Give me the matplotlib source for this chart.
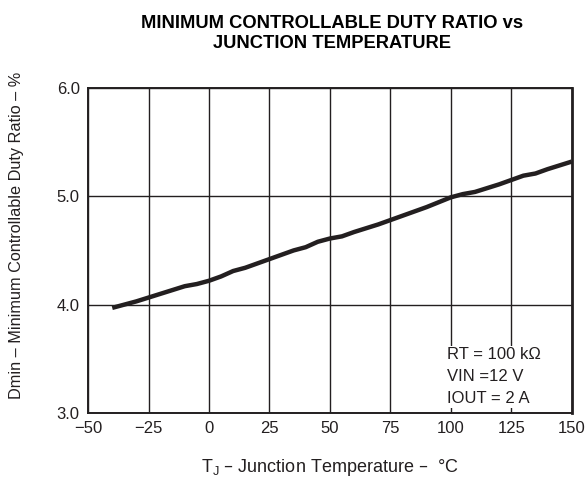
import matplotlib.pyplot as plt

plt.rcParams['font.family'] = ['Liberation Sans', 'DejaVu Sans']

# junction temperature (°C) and minimum controllable duty ratio (%)
temp_c = [-40, -30, -20, -10, -5, 0, 5, 10, 15, 20, 25, 30, 35, 40, 45, 50, 55, 60,
          70, 80, 90, 100, 105, 110, 120, 125, 130, 135, 140, 150]
dmin = [3.97, 4.03, 4.10, 4.17, 4.19, 4.22, 4.26, 4.31, 4.34, 4.38, 4.42, 4.46, 4.50,
        4.53, 4.58, 4.61, 4.63, 4.67, 4.74, 4.82, 4.90, 4.99, 5.02, 5.04, 5.11, 5.15,
        5.19, 5.21, 5.25, 5.32]

x_ticks = [-50, -25, 0, 25, 50, 75, 100, 125, 150]
y_ticks = [3.0, 4.0, 5.0, 6.0]

fig = plt.figure(figsize=(5.87, 4.83), dpi=100)
ax = fig.add_axes([0.150, 0.145, 0.824, 0.673])

ax.plot(temp_c, dmin, color="#231f20", linewidth=3.2, solid_capstyle="butt")

ax.set_xlim(-50, 150)
ax.set_ylim(3.0, 6.0)
ax.set_xticks(x_ticks)
ax.set_xticklabels([str(t).replace("-", "\u2212") for t in x_ticks])
ax.set_yticks(y_ticks)
ax.set_yticklabels([f"{v:.1f}" for v in y_ticks])
ax.tick_params(length=0, labelsize=12, pad=6, colors="#231f20")
ax.grid(True, color="#231f20", linewidth=1.0)
for s in ax.spines.values():
    s.set_color("#231f20")
    s.set_linewidth(1.4)
ax.spines["right"].set_linewidth(2.0)

ax.text(0.742, 0.203, "RT = 100 k\u03a9\nVIN =12 V\nIOUT = 2 A", transform=ax.transAxes,
        fontsize=12, va="top", ha="left", linespacing=1.6, color="#231f20",
        bbox=dict(facecolor="white", edgecolor="none", pad=1))

ax.set_xlabel("T$_\\mathregular{J}$ \u2013 Junction Temperature \u2013  \u00b0C",
              fontsize=13, labelpad=15, color="#231f20")
ax.set_ylabel("Dmin \u2013 Minimum Controllable Duty Ratio \u2013 %", fontsize=11.7,
              color="#231f20")
ax.yaxis.set_label_coords(-0.133, 0.545)
fig.text(0.566, 0.931, "MINIMUM CONTROLLABLE DUTY RATIO vs\nJUNCTION TEMPERATURE",
         ha="center", va="center", fontsize=13.2, fontweight="bold", linespacing=1.2)

fig.savefig("out.png", dpi=100)
